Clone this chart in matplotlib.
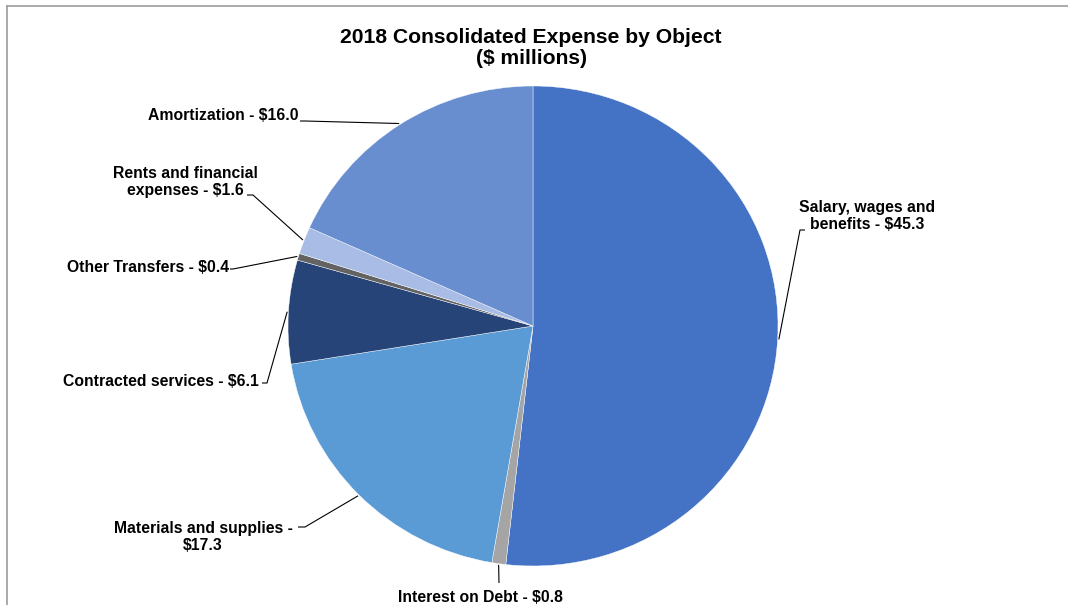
import matplotlib
matplotlib.use("Agg")
import matplotlib.pyplot as plt
from matplotlib.lines import Line2D
import numpy as np

# expense categories, clockwise from the top
labels = ["Salary, wages and\nbenefits", "Interest on Debt", "Materials and supplies -\n",
          "Contracted services", "Other Transfers", "Rents and financial\nexpenses",
          "Amortization"]
values = [45.3, 0.8, 17.3, 6.1, 0.4, 1.6, 16.0]
colors = ["#4472C4", "#A5A5A5", "#5B9BD5", "#264478", "#636363", "#A9BCE6", "#698ED0"]

plt.rcParams["font.family"] = ["Liberation Sans", "DejaVu Sans"]

W, H = 1068, 605
fig = plt.figure(figsize=(W / 100, H / 100), dpi=100)

cx, cy, rx, ry = 533, 326, 245, 240

# pie axes: y squeezed a little so the pie comes out slightly wide
axp = fig.add_axes([0, 0, 1, 1])
k = rx / ry
# y axis runs downward, so counterclock in data is clockwise on screen
wedges, _ = axp.pie(values, colors=colors, startangle=-90, counterclock=True,
                    center=(cx, cy), radius=rx, frame=True,
                    wedgeprops=dict(edgecolor="white", linewidth=0.3))
axp.set_xlim(0, W)
axp.set_ylim(cy + (H - cy) * k, cy - cy * k)
axp.set_aspect("auto")
axp.axis("off")

# overlay in plain pixel units for labels and leader lines
ax = fig.add_axes([0, 0, 1, 1])
ax.set_xlim(0, W)
ax.set_ylim(H, 0)
ax.axis("off")

def label_text(name, v):
    if name.endswith("-\n"):
        return f"{name}${v:.1f}"
    return f"{name} - ${v:.1f}"

# elbow point, end of short horizontal, text anchor, alignment
layout = [
    ((800, 230), (805, 230), (867, 216), "center"),
    ((499, 583), (499, 583), (480, 597), "center"),
    ((305, 527), (298, 527), (203, 537), "center"),
    ((267, 383), (262, 383), (259, 381), "right"),
    ((233, 269), (230, 269), (229, 267), "right"),
    ((253, 195), (247, 195), (185, 182), "center"),
    ((305, 121), (300, 121), (298, 116), "right"),
]

for w, name, v, (elbow, hend, tpos, ha) in zip(wedges, labels, values, layout):
    mid = np.deg2rad((w.theta1 + w.theta2) / 2)
    ex = cx + 1.005 * rx * np.cos(mid)
    ey = cy + 1.005 * ry * np.sin(mid)
    ax.plot([ex, elbow[0], hend[0]], [ey, elbow[1], hend[1]],
            color="black", linewidth=0.8, solid_capstyle="butt")
    ax.text(tpos[0], tpos[1], label_text(name, v), ha=ha, va="center",
            multialignment="center", fontsize=11.3, fontweight="bold",
            linespacing=1.12)

ax.text(531, 48, "2018 Consolidated Expense by Object\n($ millions)", ha="center",
        va="center", fontsize=15.2, fontweight="bold", linespacing=1.1)

# chart area border (top and left edges)
fig.add_artist(Line2D([6.5 / W, 1], [1 - 5.5 / H, 1 - 5.5 / H], color="#9C9C9C", linewidth=1.2))
fig.add_artist(Line2D([6.5 / W, 6.5 / W], [0, 1 - 5.5 / H], color="#9C9C9C", linewidth=1.2))

fig.savefig("out.png", dpi=100)
